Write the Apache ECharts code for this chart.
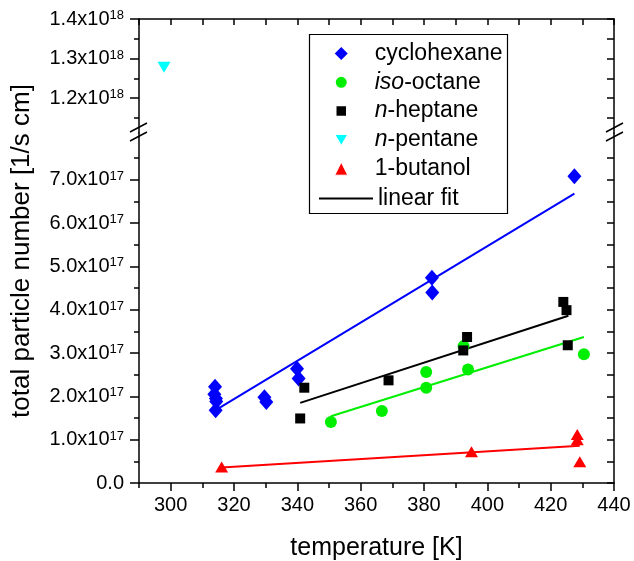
<!DOCTYPE html>
<html>
<head>
<meta charset="utf-8">
<script src="https://cdn.jsdelivr.net/npm/echarts@6/dist/echarts.min.js"></script>
<style>
  html, body { margin: 0; padding: 0; background: #fff; }
  #chart { width: 634px; height: 561px; }
</style>
</head>
<body>
<div id="chart"></div>
<script>
// measured points, temperature [K] and particle number [1/s cm]
const cyclohexaneT = [314.0, 313.8, 314.3, 314.4, 314.2, 329.6, 330.2, 339.9, 340.4, 382.5, 382.6, 427.5];
const cyclohexaneN = [2.22e17, 2.05e17, 1.95e17, 1.88e17, 1.68e17, 1.98e17, 1.87e17, 2.64e17, 2.41e17, 4.74e17, 4.40e17, 7.08e17];

const isoOctaneT = [350.6, 366.7, 380.7, 380.7, 393.9, 392.5, 430.5];
const isoOctaneN = [1.41e17, 1.66e17, 2.56e17, 2.20e17, 2.62e17, 3.16e17, 2.97e17];

const heptaneT = [340.9, 342.2, 368.8, 392.4, 393.6, 424.0, 425.0, 425.4];
const heptaneN = [1.49e17, 2.20e17, 2.37e17, 3.06e17, 3.37e17, 4.18e17, 3.99e17, 3.18e17];

const pentaneT = [297.9];
const pentaneN = [1.278e18];

const butanolT = [316.1, 395.0, 428.4, 428.4, 429.2];
const butanolN = [0.37e17, 0.72e17, 1.12e17, 1.00e17, 0.49e17];

// linear fit end points
const fitCyclohexaneT = [314.6, 427.5];
const fitCyclohexaneN = [1.70e17, 6.68e17];
const fitIsoOctaneT = [350.6, 430.5];
const fitIsoOctaneN = [1.54e17, 3.37e17];
const fitHeptaneT = [340.9, 425.6];
const fitHeptaneN = [1.85e17, 3.86e17];
const fitButanolT = [316.1, 429.2];
const fitButanolN = [0.355e17, 0.86e17];

// axis ticks
const xLabels = [300, 320, 340, 360, 380, 400, 420, 440];
const xMinor = [290, 310, 330, 350, 370, 390, 410, 430];
const upperMajor = [1.2e18, 1.3e18, 1.4e18];
const upperMinor = [1.15e18, 1.25e18, 1.35e18];
const lowerMajor = [0, 1e17, 2e17, 3e17, 4e17, 5e17, 6e17, 7e17];
const lowerMinor = [0.5e17, 1.5e17, 2.5e17, 3.5e17, 4.5e17, 5.5e17, 6.5e17, 7.5e17];

const FONT = '"Liberation Sans", Arial, Helvetica, sans-serif';
const pairs = (xs, ys) => xs.map((x, i) => [x, ys[i]]);

const chart = echarts.init(document.getElementById('chart'));

const supRich = {
  s: { fontSize: 13, fontFamily: FONT, color: '#000', verticalAlign: 'top', lineHeight: 14 }
};
const fmt = (scale, exp) => v => v === 0 ? '0.0' : (v / scale).toFixed(1) + 'x10{s|' + exp + '}';

const axisLine = { show: true, onZero: false, lineStyle: { color: '#000', width: 1.5 } };

function minorY(grid, vals, min, max) {
  return {
    type: 'value', gridIndex: grid, position: 'left', offset: 0, min: min, max: max,
    axisLine: { show: false }, splitLine: { show: false }, axisLabel: { show: false },
    axisTick: { show: true, length: 5, customValues: vals, lineStyle: { color: '#000', width: 1.5 } }
  };
}

const option = {
  animation: false,
  backgroundColor: '#fff',
  textStyle: { fontFamily: FONT, color: '#000' },
  grid: [
    { left: 139, right: 20, top: 19, height: 114, outerBoundsMode: 'none', containLabel: false },
    { left: 139, right: 20, top: 133, height: 350, outerBoundsMode: 'none', containLabel: false }
  ],
  xAxis: [
    {
      type: 'value', gridIndex: 0, position: 'top', min: 290, max: 440, interval: 10,
      axisLine: axisLine, splitLine: { show: false }, axisLabel: { show: false },
      axisTick: { show: true, inside: true, length: 6, lineStyle: { color: '#000', width: 1.5 } }
    },
    {
      type: 'value', gridIndex: 1, position: 'bottom', min: 290, max: 440,
      axisLine: axisLine, splitLine: { show: false },
      axisTick: { show: true, length: 8, customValues: xLabels, lineStyle: { color: '#000', width: 1.5 } },
      axisLabel: { customValues: xLabels, fontSize: 20, color: '#000', margin: 12, fontFamily: FONT },
      name: 'temperature [K]', nameLocation: 'middle', nameGap: 53,
      nameTextStyle: { fontSize: 25, color: '#000', fontFamily: FONT }
    },
    {
      type: 'value', gridIndex: 1, position: 'bottom', min: 290, max: 440,
      axisLine: { show: false }, splitLine: { show: false }, axisLabel: { show: false },
      axisTick: { show: true, length: 5, customValues: xMinor, lineStyle: { color: '#000', width: 1.5 } }
    }
  ],
  yAxis: [
    {
      type: 'value', gridIndex: 0, position: 'left', min: 1.112e18, max: 1.4e18,
      axisLine: axisLine, splitLine: { show: false },
      axisTick: { show: true, length: 9, customValues: upperMajor, lineStyle: { color: '#000', width: 1.5 } },
      axisLabel: { customValues: upperMajor, fontSize: 20, lineHeight: 20, color: '#000', margin: 15,
        fontFamily: FONT, formatter: fmt(1e18, 18), rich: supRich }
    },
    minorY(0, upperMinor, 1.112e18, 1.4e18),
    {
      type: 'value', gridIndex: 0, position: 'right', min: 1.112e18, max: 1.4e18,
      axisLine: axisLine, splitLine: { show: false }, axisLabel: { show: false },
      axisTick: { show: true, inside: true, length: 7, customValues: upperMajor.concat(upperMinor),
        lineStyle: { color: '#000', width: 1.5 } }
    },
    {
      type: 'value', gridIndex: 1, position: 'left', min: 0, max: 8.08e17,
      axisLine: axisLine, splitLine: { show: false },
      axisTick: { show: true, length: 9, customValues: lowerMajor, lineStyle: { color: '#000', width: 1.5 } },
      axisLabel: { customValues: lowerMajor, fontSize: 20, lineHeight: 20, color: '#000', margin: 15,
        fontFamily: FONT, formatter: fmt(1e17, 17), rich: supRich }
    },
    minorY(1, lowerMinor, 0, 8.08e17),
    {
      type: 'value', gridIndex: 1, position: 'right', min: 0, max: 8.08e17,
      axisLine: axisLine, splitLine: { show: false }, axisLabel: { show: false },
      axisTick: { show: true, inside: true, length: 7, customValues: lowerMajor.concat(lowerMinor),
        lineStyle: { color: '#000', width: 1.5 } }
    }
  ],
  legend: [
    {
      data: [
        { name: 'cyclohexane' },
        { name: 'iso-octane', itemStyle: { borderColor: '#fff', borderWidth: 2 } },
        { name: 'n-heptane', itemStyle: { borderColor: '#fff', borderWidth: 3.5 } },
        { name: 'n-pentane', icon: 'path://M0,0L2,0L1,1.7Z', itemStyle: { borderColor: '#fff', borderWidth: 1 } },
        { name: '1-butanol', itemStyle: { borderColor: '#fff', borderWidth: 1 } }
      ],
      orient: 'vertical', left: 333, top: 42, padding: 0,
      itemWidth: 13, itemHeight: 13, itemGap: 5.8,
      textStyle: { fontSize: 23, color: '#000', fontFamily: FONT, padding: [0, 0, 0, 22],
        rich: { i: { fontSize: 23, fontStyle: 'italic', color: '#000', fontFamily: FONT } } },
      formatter: name => {
        if (name === 'iso-octane') return '{i|iso}-octane';
        if (name.indexOf('n-') === 0) return '{i|n}' + name.slice(1);
        return name;
      },
      selectedMode: false
    },
    {
      data: [{ name: 'linear fit', icon: 'rect', itemStyle: { color: '#000' } }],
      orient: 'vertical', left: 319, top: 187, padding: 0,
      itemWidth: 54, itemHeight: 2, symbolKeepAspect: false,
      textStyle: { fontSize: 23, color: '#000', fontFamily: FONT },
      selectedMode: false
    }
  ],
  graphic: [
    { type: 'rect', shape: { x: 309.5, y: 34.5, width: 198, height: 179 },
      style: { fill: 'none', stroke: '#000', lineWidth: 1.2 }, z: 100 },
    { type: 'text', x: 22, y: 251, rotation: Math.PI / 2,
      style: { text: 'total particle number [1/s cm]', font: '26px ' + FONT, fill: '#000',
        textAlign: 'center', textVerticalAlign: 'middle' } },
    // axis break marks
    { type: 'line', shape: { x1: 130, y1: 132, x2: 147, y2: 123 }, style: { stroke: '#000', lineWidth: 1.5 }, z: 100 },
    { type: 'line', shape: { x1: 130, y1: 141, x2: 147, y2: 132 }, style: { stroke: '#000', lineWidth: 1.5 }, z: 100 },
    { type: 'line', shape: { x1: 606, y1: 132, x2: 623, y2: 123 }, style: { stroke: '#000', lineWidth: 1.5 }, z: 100 },
    { type: 'line', shape: { x1: 606, y1: 141, x2: 623, y2: 132 }, style: { stroke: '#000', lineWidth: 1.5 }, z: 100 }
  ],
  series: [
    { name: 'cyclohexane', type: 'scatter', xAxisIndex: 1, yAxisIndex: 3, symbol: 'diamond',
      symbolSize: [14, 16], itemStyle: { color: '#0000ff', opacity: 1 }, data: pairs(cyclohexaneT, cyclohexaneN), z: 3 },
    { name: 'iso-octane', type: 'scatter', xAxisIndex: 1, yAxisIndex: 3, symbol: 'circle',
      symbolSize: 12, itemStyle: { color: '#00ee00', opacity: 1 }, data: pairs(isoOctaneT, isoOctaneN), z: 3 },
    { name: 'n-heptane', type: 'scatter', xAxisIndex: 1, yAxisIndex: 3, symbol: 'rect',
      symbolSize: 10, itemStyle: { color: '#000', opacity: 1 }, data: pairs(heptaneT, heptaneN), z: 3 },
    { name: 'n-pentane', type: 'scatter', xAxisIndex: 0, yAxisIndex: 0, symbol: 'triangle', symbolRotate: 180,
      symbolSize: [13, 11], itemStyle: { color: '#00ffff', opacity: 1 }, data: pairs(pentaneT, pentaneN), z: 3 },
    { name: '1-butanol', type: 'scatter', xAxisIndex: 1, yAxisIndex: 3, symbol: 'triangle',
      symbolSize: [13, 11], itemStyle: { color: '#ff0000', opacity: 1 }, data: pairs(butanolT, butanolN), z: 3 },
    { name: 'linear fit', type: 'line', xAxisIndex: 1, yAxisIndex: 3, symbol: 'none',
      lineStyle: { color: '#0000ff', width: 2 }, data: pairs(fitCyclohexaneT, fitCyclohexaneN), z: 2 },
    { name: 'linear fit', type: 'line', xAxisIndex: 1, yAxisIndex: 3, symbol: 'none',
      lineStyle: { color: '#00ee00', width: 2 }, data: pairs(fitIsoOctaneT, fitIsoOctaneN), z: 2 },
    { name: 'linear fit', type: 'line', xAxisIndex: 1, yAxisIndex: 3, symbol: 'none',
      lineStyle: { color: '#000', width: 2 }, data: pairs(fitHeptaneT, fitHeptaneN), z: 2 },
    { name: 'linear fit', type: 'line', xAxisIndex: 1, yAxisIndex: 3, symbol: 'none',
      lineStyle: { color: '#ff0000', width: 2 }, data: pairs(fitButanolT, fitButanolN), z: 2 }
  ]
};

chart.setOption(option);
</script>
</body>
</html>
